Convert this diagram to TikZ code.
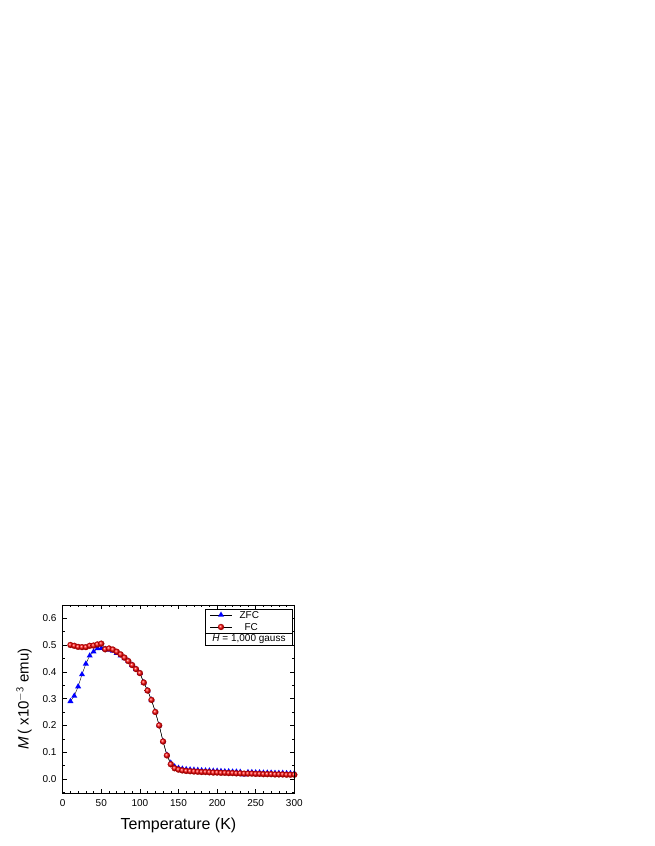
\documentclass[tikz,border=0pt]{standalone}
\usepackage{fontspec}
\setmainfont{Liberation Sans}
\usetikzlibrary{shapes.geometric}
\begin{document}
\begin{tikzpicture}[x=1pt,y=1pt,
  zfc/.style={fill=blue,draw=none,regular polygon,regular polygon sides=3,inner sep=0pt,minimum size=7pt},
  fcm/.style={circle,inner sep=0pt,minimum size=6pt,ball color=red,draw=red!70!black,line width=0.2pt},
  lab/.style={font=\fontsize{10}{12}\selectfont}]
\useasboundingbox (0,0) rectangle (654,846);
\def\X#1{62.7+0.772*#1}
\def\Y#1{67+268*#1}
\coordinate (bl) at (62.7,52.7);
\coordinate (tr) at (294.3,241);
% ZFC data
\def\zfcdata{10/0.29,15/0.31,20/0.345,25/0.39,30/0.43,35/0.46,40/0.475,45/0.487,50/0.488,55/0.485,60/0.482,65/0.478,70/0.47,75/0.46,80/0.45,85/0.44,90/0.425,95/0.41,100/0.395,105/0.36,110/0.33,115/0.295,120/0.25,125/0.2,130/0.14,135/0.09,140/0.06,145/0.046,150/0.041,155/0.038,160/0.036,165/0.035,170/0.034,175/0.033,180/0.032,185/0.031,190/0.031,195/0.030,200/0.030,205/0.029,210/0.028,215/0.028,220/0.027,225/0.027,230/0.026,235/0.016,240/0.025,245/0.025,250/0.024,255/0.024,260/0.023,265/0.023,270/0.023,275/0.022,280/0.022,285/0.022,290/0.021,295/0.021,300/0.021}
\def\fcdata{10/0.500,15/0.497,20/0.493,25/0.492,30/0.492,35/0.497,40/0.498,45/0.502,50/0.505,55/0.484,60/0.487,65/0.483,70/0.475,75/0.465,80/0.453,85/0.44,90/0.425,95/0.41,100/0.395,105/0.36,110/0.33,115/0.295,120/0.25,125/0.2,130/0.14,135/0.088,140/0.055,145/0.040,150/0.035,155/0.032,160/0.030,165/0.029,170/0.028,175/0.027,180/0.026,185/0.026,190/0.025,195/0.024,200/0.024,205/0.023,210/0.023,215/0.022,220/0.022,225/0.021,230/0.021,235/0.020,240/0.020,245/0.020,250/0.019,255/0.019,260/0.018,265/0.018,270/0.018,275/0.017,280/0.017,285/0.017,290/0.016,295/0.016,300/0.016}
% lines
\draw[black,line width=0.4pt] plot coordinates {(\X{10},\Y{0.29})} \foreach \t/\m in \zfcdata {-- (\X{\t},\Y{\m})};
\draw[black,line width=0.4pt] (\X{10},\Y{0.5}) \foreach \t/\m in \fcdata {-- (\X{\t},\Y{\m})};
\foreach \t/\m [count=\i] in \zfcdata {\node[zfc] (z\i) at (\X{\t},\Y{\m}) {};}
\foreach \t/\m [count=\i] in \fcdata {\node[fcm] (f\i) at (\X{\t},\Y{\m}) {};}
% axes frame
\draw[line width=0.6pt] (bl) rectangle (tr);
\foreach \t in {0,50,...,300} {
  \draw[line width=0.5pt] (\X{\t},52.7) -- ++(0,4);
  \draw[line width=0.5pt] (\X{\t},241) -- ++(0,-4);
  \node[lab,anchor=north] (xl\t) at (\X{\t},50) {\t};}
\foreach \t in {10,20,...,290} {
  \draw[line width=0.5pt] (\X{\t},52.7) -- ++(0,2.3);
  \draw[line width=0.5pt] (\X{\t},241) -- ++(0,-2.3);}
\foreach \m/\l in {0/0.0,0.1/0.1,0.2/0.2,0.3/0.3,0.4/0.4,0.5/0.5,0.6/0.6} {
  \draw[line width=0.5pt] (62.7,\Y{\m}) -- ++(4,0);
  \draw[line width=0.5pt] (294.3,\Y{\m}) -- ++(-4,0);
  \node[lab,anchor=east] at (60,\Y{\m}) {\l};}
\foreach \m in {-0.05,0.05,0.15,0.25,0.35,0.45,0.55} {
  \draw[line width=0.5pt] (62.7,\Y{\m}) -- ++(2.3,0);
  \draw[line width=0.5pt] (294.3,\Y{\m}) -- ++(-2.3,0);}
\node[font=\fontsize{16}{18}\selectfont] (xt) at (178.5,21) {Temperature (K)};
\node[font=\fontsize{15}{18}\selectfont,rotate=90] (yt) at (24,147) {\textit{M}\,( x10$^{\mathsf{-3}}$ emu)};
% legend
\draw[line width=0.5pt,fill=white] (205.5,213) rectangle (292.5,236.5);
\coordinate (lg1a) at (210,231); \coordinate (lg1b) at (232,231);
\coordinate (lg2a) at (210,219); \coordinate (lg2b) at (232,219);
\draw[line width=0.4pt] (lg1a) -- (lg1b);
\draw[line width=0.4pt] (lg2a) -- (lg2b);
\node[zfc] (lz) at (221,231) {};
\node[fcm] (lf) at (221,219) {};
\node[lab,anchor=west] (lzt) at (236,231) {ZFC};
\node[lab,anchor=west] (lft) at (241,219) {FC};
\draw[line width=0.5pt] (205.5,213) rectangle (292.5,200.5);
\node[lab] (hl) at (249,207) {\textit{H} = 1,000 gauss};
\end{tikzpicture}
\end{document}
